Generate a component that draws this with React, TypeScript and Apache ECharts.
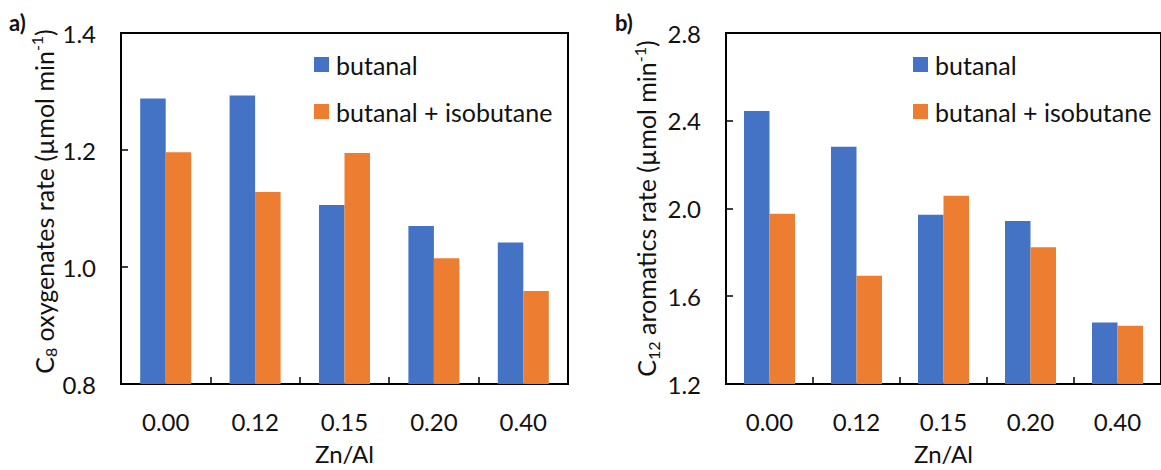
import React, { useEffect, useRef } from "react";
import * as echarts from "echarts";

const categories = ["0.00", "0.12", "0.15", "0.20", "0.40"];
const seriesNames = ["butanal", "butanal + isobutane"];
const c8Butanal = [1.288, 1.293, 1.106, 1.07, 1.042];
const c8Mixed = [1.196, 1.128, 1.195, 1.015, 0.959];
const c12Butanal = [2.444, 2.282, 1.971, 1.943, 1.48];
const c12Mixed = [1.976, 1.693, 2.058, 1.823, 1.465];
const leftAxis = { min: 0.8, max: 1.4, interval: 0.2 };
const rightAxis = { min: 1.2, max: 2.8, interval: 0.4 };

const FONT = "Lato";
const BLUE = "#4472C4";
const ORANGE = "#ED7D31";
const INK = "#111111";

export default function App() {
  const ref = useRef<HTMLDivElement>(null);
  useEffect(() => {
    if (!ref.current) return;
    const chart = echarts.init(ref.current, undefined, { renderer: "svg" });
    const richName = {
      n: { fontSize: 25, fontFamily: FONT, color: INK, lineHeight: 30 },
      sub: { fontSize: 16, fontFamily: FONT, color: INK, verticalAlign: "bottom", lineHeight: 16 },
      sup: { fontSize: 16, fontFamily: FONT, color: INK, verticalAlign: "top", lineHeight: 16 },
    };
    const axisLine = { show: true, lineStyle: { color: "#000", width: 2 } };
    const axisTick = { show: true, inside: true, length: 7, lineStyle: { color: "#000", width: 1.5 } };
    const xAxisBase = (gridIndex: number) => ({
      type: "category",
      gridIndex,
      data: categories,
      axisLine,
      axisTick,
      axisLabel: { fontFamily: FONT, fontSize: 24, color: INK, margin: 25 },
      name: "Zn/Al",
      nameLocation: "middle",
      nameGap: 57,
      nameTextStyle: { fontFamily: FONT, fontSize: 24, color: INK },
      splitLine: { show: false },
    });
    const yAxisBase = (gridIndex: number, ax: any, name: string, pad: number, gap: number) => ({
      type: "value",
      gridIndex,
      min: ax.min,
      max: ax.max,
      interval: ax.interval,
      axisLine,
      axisTick,
      splitLine: { show: false },
      axisLabel: {
        fontFamily: FONT,
        fontSize: 24,
        color: INK,
        margin: 25,
        formatter: (v: number) => v.toFixed(1),
      },
      name,
      nameLocation: "middle",
      nameGap: gap,
      nameTextStyle: { rich: richName, padding: [0, 0, 0, pad] },
    });
    const legendBase = (left: number) => ({
      orient: "vertical",
      left,
      top: 52,
      padding: 0,
      itemWidth: 15,
      itemHeight: 15,
      itemGap: 22,
      icon: "rect",
      data: seriesNames,
      textStyle: { fontFamily: FONT, fontSize: 25, color: INK, padding: [0, 0, 0, 2] },
    });
    const bar = (name: string, data: number[], color: string, idx: number) => ({
      type: "bar",
      name,
      data,
      xAxisIndex: idx,
      yAxisIndex: idx,
      barWidth: 25.5,
      barGap: "0%",
      itemStyle: { color },
    });
    chart.setOption({
      animation: false,
      textStyle: { fontFamily: FONT },
      grid: [
        { left: 121, top: 33, right: 593, bottom: 75, show: true, borderColor: "#000", borderWidth: 2, backgroundColor: "transparent" },
        { left: 726, top: 33, right: -10, bottom: 75, show: true, borderColor: "#000", borderWidth: 2, backgroundColor: "transparent" },
      ],
      xAxis: [xAxisBase(0), xAxisBase(1)],
      yAxis: [
        yAxisBase(0, leftAxis, "{n|C}{sub|8}{n| oxygenates rate (µmol min}{sup|-1}{n|)}", 14, 62),
        yAxisBase(1, rightAxis, "{n|C}{sub|12}{n| aromatics rate (µmol min}{sup|-1}{n|)}", 0, 65),
      ],
      legend: [legendBase(314), legendBase(913)],
      series: [
        bar(seriesNames[0], c8Butanal, BLUE, 0),
        bar(seriesNames[1], c8Mixed, ORANGE, 0),
        bar(seriesNames[0], c12Butanal, BLUE, 1),
        bar(seriesNames[1], c12Mixed, ORANGE, 1),
      ],
      graphic: [
        { type: "text", left: 9, top: 11, style: { text: "a)", font: `bold 22px ${FONT}`, fill: INK } },
        { type: "text", left: 615, top: 11, style: { text: "b)", font: `bold 22px ${FONT}`, fill: INK } },
      ],
    });
    return () => chart.dispose();
  }, []);
  return (
    <div
      ref={ref}
      style={{ position: "fixed", left: 0, top: 0, width: 1161, height: 470, background: "#fff" }}
    />
  );
}
